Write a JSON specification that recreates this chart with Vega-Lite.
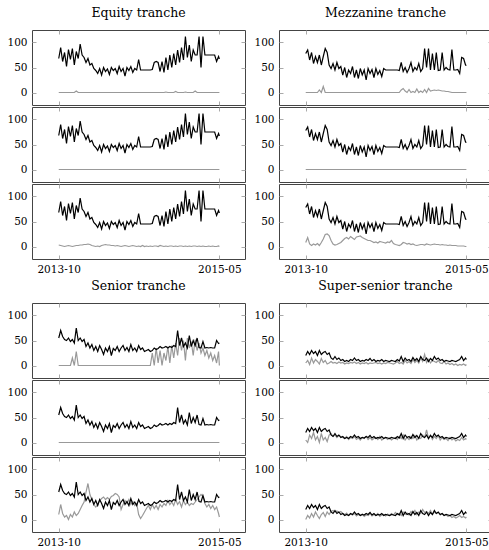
{
"$schema":"https://vega.github.io/schema/vega-lite/v6.json",
"padding":{"left":6,"top":6,"right":0,"bottom":0},
"background":"white",
"config":{
 "font":"DejaVu Serif",
 "view":{"stroke":"#444","strokeWidth":1},
 "axis":{"domain":false,"grid":false,"title":null,"tickColor":"#aaa","tickSize":-4,"labelFontSize":10.5,"labelColor":"#000","labelFont":"DejaVu Serif","labelPadding":9},
 "title":{"font":"DejaVu Serif","fontSize":12.5,"fontWeight":"normal","color":"#000","offset":10},
 "style":{"group-title":{"font":"DejaVu Serif","fontSize":12.5,"fontWeight":"normal"},"guide-label":{"font":"DejaVu Serif","fontSize":10.5}},
 "line":{"strokeWidth":1.2}
},
"data":{"values":[
{"d":"2013-10-01","eb":68,"e1":0,"e2":0,"e3":3,"mb":78,"m1":0,"m2":0,"m3":8,"sb":55,"s1":0,"s2":0,"s3":10,"ub":20,"u1":5,"u2":5,"u3":0},
{"d":"2013-10-08","eb":90,"e1":0,"e2":0,"e3":2,"mb":85,"m1":0,"m2":0,"m3":18,"sb":70,"s1":0,"s2":0,"s3":30,"ub":28,"u1":10,"u2":0,"u3":8},
{"d":"2013-10-15","eb":62,"e1":0,"e2":0,"e3":1,"mb":65,"m1":0,"m2":0,"m3":5,"sb":58,"s1":0,"s2":0,"s3":12,"ub":22,"u1":2,"u2":15,"u3":3},
{"d":"2013-10-22","eb":80,"e1":0,"e2":0,"e3":0,"mb":80,"m1":0,"m2":0,"m3":2,"sb":52,"s1":0,"s2":0,"s3":5,"ub":30,"u1":15,"u2":8,"u3":12},
{"d":"2013-10-29","eb":52,"e1":0,"e2":0,"e3":1,"mb":58,"m1":0,"m2":0,"m3":5,"sb":50,"s1":0,"s2":0,"s3":8,"ub":24,"u1":5,"u2":20,"u3":5},
{"d":"2013-11-05","eb":86,"e1":0,"e2":0,"e3":2,"mb":72,"m1":0,"m2":0,"m3":3,"sb":55,"s1":0,"s2":0,"s3":0,"ub":28,"u1":12,"u2":5,"u3":15},
{"d":"2013-11-12","eb":66,"e1":0,"e2":0,"e3":1,"mb":60,"m1":0,"m2":0,"m3":6,"sb":48,"s1":0,"s2":0,"s3":10,"ub":20,"u1":8,"u2":12,"u3":8},
{"d":"2013-11-19","eb":88,"e1":0,"e2":0,"e3":0,"mb":75,"m1":5,"m2":0,"m3":2,"sb":52,"s1":15,"s2":0,"s3":5,"ub":30,"u1":3,"u2":0,"u3":2},
{"d":"2013-11-26","eb":55,"e1":0,"e2":0,"e3":1,"mb":55,"m1":0,"m2":0,"m3":8,"sb":45,"s1":0,"s2":0,"s3":15,"ub":22,"u1":14,"u2":18,"u3":10},
{"d":"2013-12-03","eb":82,"e1":3,"e2":0,"e3":2,"mb":72,"m1":12,"m2":0,"m3":15,"sb":75,"s1":28,"s2":0,"s3":8,"ub":26,"u1":6,"u2":5,"u3":14},
{"d":"2013-12-10","eb":68,"e1":0,"e2":0,"e3":2,"mb":88,"m1":0,"m2":0,"m3":24,"sb":50,"s1":0,"s2":0,"s3":12,"ub":28,"u1":10,"u2":10,"u3":6},
{"d":"2013-12-17","eb":97,"e1":0,"e2":0,"e3":3,"mb":80,"m1":0,"m2":0,"m3":25,"sb":55,"s1":0,"s2":0,"s3":20,"ub":22,"u1":3,"u2":2,"u3":15},
{"d":"2013-12-24","eb":75,"e1":0,"e2":0,"e3":3,"mb":55,"m1":0,"m2":0,"m3":22,"sb":48,"s1":0,"s2":0,"s3":28,"ub":25,"u1":5,"u2":15,"u3":10},
{"d":"2013-12-31","eb":70,"e1":0,"e2":0,"e3":4,"mb":48,"m1":0,"m2":0,"m3":12,"sb":52,"s1":0,"s2":0,"s3":35,"ub":15,"u1":8,"u2":18,"u3":16},
{"d":"2014-01-07","eb":60,"e1":0,"e2":0,"e3":4,"mb":58,"m1":0,"m2":0,"m3":5,"sb":38,"s1":0,"s2":0,"s3":55,"ub":12,"u1":5,"u2":12,"u3":18},
{"d":"2014-01-14","eb":68,"e1":0,"e2":0,"e3":5,"mb":45,"m1":0,"m2":0,"m3":3,"sb":45,"s1":0,"s2":0,"s3":72,"ub":18,"u1":6,"u2":15,"u3":15},
{"d":"2014-01-21","eb":55,"e1":0,"e2":0,"e3":4,"mb":60,"m1":0,"m2":0,"m3":4,"sb":35,"s1":0,"s2":0,"s3":50,"ub":12,"u1":4,"u2":10,"u3":17},
{"d":"2014-01-28","eb":58,"e1":0,"e2":0,"e3":2,"mb":48,"m1":0,"m2":0,"m3":6,"sb":42,"s1":0,"s2":0,"s3":40,"ub":15,"u1":7,"u2":14,"u3":14},
{"d":"2014-02-04","eb":48,"e1":0,"e2":0,"e3":1,"mb":52,"m1":0,"m2":0,"m3":8,"sb":30,"s1":0,"s2":0,"s3":30,"ub":10,"u1":5,"u2":12,"u3":16},
{"d":"2014-02-11","eb":44,"e1":0,"e2":0,"e3":0,"mb":35,"m1":0,"m2":0,"m3":12,"sb":38,"s1":0,"s2":0,"s3":25,"ub":12,"u1":6,"u2":10,"u3":12},
{"d":"2014-02-18","eb":38,"e1":0,"e2":0,"e3":1,"mb":50,"m1":0,"m2":0,"m3":16,"sb":28,"s1":0,"s2":0,"s3":30,"ub":8,"u1":3,"u2":8,"u3":10},
{"d":"2014-02-25","eb":48,"e1":0,"e2":0,"e3":0,"mb":30,"m1":0,"m2":0,"m3":18,"sb":40,"s1":0,"s2":0,"s3":38,"ub":10,"u1":5,"u2":12,"u3":13},
{"d":"2014-03-04","eb":35,"e1":0,"e2":0,"e3":2,"mb":45,"m1":0,"m2":0,"m3":15,"sb":32,"s1":0,"s2":0,"s3":42,"ub":8,"u1":4,"u2":6,"u3":8},
{"d":"2014-03-11","eb":50,"e1":0,"e2":0,"e3":3,"mb":38,"m1":0,"m2":0,"m3":20,"sb":22,"s1":0,"s2":0,"s3":45,"ub":12,"u1":6,"u2":10,"u3":11},
{"d":"2014-03-18","eb":42,"e1":0,"e2":0,"e3":4,"mb":52,"m1":0,"m2":0,"m3":17,"sb":35,"s1":0,"s2":0,"s3":40,"ub":10,"u1":5,"u2":8,"u3":9},
{"d":"2014-03-25","eb":47,"e1":0,"e2":0,"e3":3,"mb":30,"m1":0,"m2":0,"m3":14,"sb":28,"s1":0,"s2":0,"s3":44,"ub":15,"u1":7,"u2":12,"u3":12},
{"d":"2014-04-01","eb":36,"e1":0,"e2":0,"e3":3,"mb":45,"m1":0,"m2":0,"m3":19,"sb":38,"s1":0,"s2":0,"s3":40,"ub":10,"u1":4,"u2":6,"u3":7},
{"d":"2014-04-08","eb":50,"e1":0,"e2":0,"e3":2,"mb":28,"m1":0,"m2":0,"m3":20,"sb":20,"s1":0,"s2":0,"s3":46,"ub":12,"u1":6,"u2":9,"u3":10},
{"d":"2014-04-15","eb":44,"e1":0,"e2":0,"e3":2,"mb":48,"m1":0,"m2":0,"m3":21,"sb":34,"s1":0,"s2":0,"s3":48,"ub":8,"u1":3,"u2":5,"u3":8},
{"d":"2014-04-22","eb":48,"e1":0,"e2":0,"e3":1,"mb":35,"m1":0,"m2":0,"m3":18,"sb":30,"s1":0,"s2":0,"s3":52,"ub":10,"u1":5,"u2":10,"u3":11},
{"d":"2014-04-29","eb":38,"e1":0,"e2":0,"e3":2,"mb":45,"m1":0,"m2":0,"m3":16,"sb":38,"s1":0,"s2":0,"s3":50,"ub":9,"u1":4,"u2":8,"u3":6},
{"d":"2014-05-06","eb":52,"e1":0,"e2":0,"e3":1,"mb":25,"m1":0,"m2":0,"m3":14,"sb":28,"s1":0,"s2":0,"s3":45,"ub":12,"u1":6,"u2":12,"u3":9},
{"d":"2014-05-13","eb":42,"e1":0,"e2":0,"e3":0,"mb":48,"m1":0,"m2":0,"m3":12,"sb":35,"s1":0,"s2":0,"s3":20,"ub":10,"u1":3,"u2":6,"u3":8},
{"d":"2014-05-20","eb":48,"e1":0,"e2":0,"e3":1,"mb":38,"m1":0,"m2":0,"m3":12,"sb":40,"s1":0,"s2":0,"s3":30,"ub":14,"u1":5,"u2":10,"u3":12},
{"d":"2014-05-27","eb":33,"e1":0,"e2":0,"e3":2,"mb":46,"m1":0,"m2":0,"m3":10,"sb":30,"s1":0,"s2":0,"s3":38,"ub":9,"u1":4,"u2":5,"u3":7},
{"d":"2014-06-03","eb":50,"e1":0,"e2":0,"e3":1,"mb":30,"m1":0,"m2":0,"m3":8,"sb":36,"s1":0,"s2":0,"s3":32,"ub":12,"u1":5,"u2":8,"u3":10},
{"d":"2014-06-10","eb":44,"e1":0,"e2":0,"e3":0,"mb":48,"m1":0,"m2":0,"m3":9,"sb":28,"s1":0,"s2":0,"s3":40,"ub":8,"u1":6,"u2":10,"u3":8},
{"d":"2014-06-17","eb":52,"e1":0,"e2":0,"e3":1,"mb":36,"m1":0,"m2":0,"m3":7,"sb":42,"s1":0,"s2":0,"s3":30,"ub":10,"u1":4,"u2":6,"u3":12},
{"d":"2014-06-24","eb":40,"e1":0,"e2":0,"e3":2,"mb":44,"m1":0,"m2":0,"m3":10,"sb":30,"s1":0,"s2":0,"s3":36,"ub":9,"u1":5,"u2":12,"u3":6},
{"d":"2014-07-01","eb":48,"e1":0,"e2":0,"e3":1,"mb":32,"m1":0,"m2":0,"m3":9,"sb":35,"s1":0,"s2":0,"s3":28,"ub":12,"u1":3,"u2":5,"u3":9},
{"d":"2014-07-08","eb":45,"e1":0,"e2":0,"e3":0,"mb":48,"m1":0,"m2":0,"m3":8,"sb":28,"s1":0,"s2":0,"s3":32,"ub":8,"u1":5,"u2":8,"u3":10},
{"d":"2014-07-15","eb":66,"e1":0,"e2":0,"e3":1,"mb":45,"m1":0,"m2":0,"m3":7,"sb":40,"s1":0,"s2":0,"s3":10,"ub":10,"u1":4,"u2":10,"u3":7},
{"d":"2014-07-22","eb":45,"e1":0,"e2":0,"e3":0,"mb":45,"m1":0,"m2":0,"m3":9,"sb":32,"s1":0,"s2":0,"s3":2,"ub":9,"u1":6,"u2":6,"u3":11},
{"d":"2014-07-29","eb":45,"e1":0,"e2":0,"e3":2,"mb":45,"m1":0,"m2":0,"m3":8,"sb":35,"s1":0,"s2":0,"s3":8,"ub":8,"u1":5,"u2":9,"u3":8},
{"d":"2014-08-05","eb":45,"e1":0,"e2":0,"e3":0,"mb":45,"m1":0,"m2":0,"m3":12,"sb":28,"s1":0,"s2":0,"s3":15,"ub":10,"u1":4,"u2":5,"u3":12},
{"d":"2014-08-12","eb":45,"e1":0,"e2":0,"e3":1,"mb":45,"m1":0,"m2":0,"m3":6,"sb":30,"s1":0,"s2":0,"s3":22,"ub":9,"u1":3,"u2":8,"u3":9},
{"d":"2014-08-19","eb":45,"e1":0,"e2":0,"e3":0,"mb":45,"m1":0,"m2":0,"m3":4,"sb":32,"s1":0,"s2":0,"s3":28,"ub":8,"u1":5,"u2":10,"u3":14},
{"d":"2014-08-26","eb":45,"e1":0,"e2":0,"e3":1,"mb":45,"m1":0,"m2":0,"m3":3,"sb":28,"s1":0,"s2":0,"s3":20,"ub":12,"u1":8,"u2":6,"u3":10},
{"d":"2014-09-02","eb":46,"e1":0,"e2":0,"e3":0,"mb":44,"m1":0,"m2":0,"m3":2,"sb":30,"s1":25,"s2":0,"s3":30,"ub":9,"u1":4,"u2":12,"u3":12},
{"d":"2014-09-09","eb":60,"e1":0,"e2":0,"e3":1,"mb":60,"m1":5,"m2":0,"m3":4,"sb":35,"s1":0,"s2":0,"s3":22,"ub":18,"u1":6,"u2":8,"u3":8},
{"d":"2014-09-16","eb":62,"e1":0,"e2":0,"e3":1,"mb":42,"m1":8,"m2":0,"m3":8,"sb":32,"s1":35,"s2":0,"s3":28,"ub":8,"u1":3,"u2":15,"u3":15},
{"d":"2014-09-23","eb":60,"e1":0,"e2":0,"e3":0,"mb":50,"m1":3,"m2":0,"m3":7,"sb":34,"s1":5,"s2":0,"s3":20,"ub":15,"u1":10,"u2":5,"u3":10},
{"d":"2014-09-30","eb":42,"e1":0,"e2":0,"e3":2,"mb":40,"m1":0,"m2":0,"m3":5,"sb":38,"s1":30,"s2":0,"s3":30,"ub":10,"u1":5,"u2":10,"u3":13},
{"d":"2014-10-07","eb":62,"e1":0,"e2":0,"e3":1,"mb":48,"m1":6,"m2":0,"m3":6,"sb":35,"s1":0,"s2":0,"s3":25,"ub":12,"u1":8,"u2":6,"u3":9},
{"d":"2014-10-14","eb":40,"e1":0,"e2":0,"e3":0,"mb":60,"m1":0,"m2":0,"m3":4,"sb":36,"s1":25,"s2":0,"s3":32,"ub":8,"u1":4,"u2":12,"u3":16},
{"d":"2014-10-21","eb":70,"e1":1,"e2":0,"e3":1,"mb":42,"m1":2,"m2":0,"m3":5,"sb":38,"s1":10,"s2":0,"s3":28,"ub":16,"u1":12,"u2":8,"u3":12},
{"d":"2014-10-28","eb":45,"e1":0,"e2":0,"e3":0,"mb":50,"m1":0,"m2":0,"m3":3,"sb":35,"s1":38,"s2":0,"s3":38,"ub":10,"u1":6,"u2":14,"u3":18},
{"d":"2014-11-04","eb":75,"e1":0,"e2":0,"e3":1,"mb":45,"m1":7,"m2":0,"m3":2,"sb":38,"s1":5,"s2":0,"s3":30,"ub":14,"u1":10,"u2":5,"u3":10},
{"d":"2014-11-11","eb":50,"e1":0,"e2":0,"e3":1,"mb":58,"m1":0,"m2":0,"m3":3,"sb":36,"s1":40,"s2":0,"s3":35,"ub":8,"u1":5,"u2":10,"u3":15},
{"d":"2014-11-18","eb":78,"e1":0,"e2":0,"e3":0,"mb":42,"m1":3,"m2":0,"m3":4,"sb":40,"s1":15,"s2":0,"s3":28,"ub":18,"u1":15,"u2":8,"u3":12},
{"d":"2014-11-25","eb":55,"e1":2,"e2":0,"e3":1,"mb":48,"m1":0,"m2":0,"m3":4,"sb":38,"s1":45,"s2":0,"s3":40,"ub":12,"u1":8,"u2":15,"u3":20},
{"d":"2014-12-02","eb":85,"e1":0,"e2":0,"e3":0,"mb":88,"m1":6,"m2":0,"m3":3,"sb":70,"s1":20,"s2":0,"s3":30,"ub":10,"u1":22,"u2":10,"u3":14},
{"d":"2014-12-09","eb":60,"e1":0,"e2":0,"e3":1,"mb":50,"m1":0,"m2":0,"m3":5,"sb":40,"s1":55,"s2":0,"s3":36,"ub":15,"u1":6,"u2":25,"u3":16},
{"d":"2014-12-16","eb":90,"e1":0,"e2":0,"e3":1,"mb":88,"m1":8,"m2":0,"m3":4,"sb":55,"s1":30,"s2":0,"s3":25,"ub":8,"u1":12,"u2":8,"u3":12},
{"d":"2014-12-23","eb":65,"e1":0,"e2":0,"e3":0,"mb":45,"m1":3,"m2":0,"m3":3,"sb":38,"s1":50,"s2":0,"s3":38,"ub":14,"u1":5,"u2":15,"u3":18},
{"d":"2014-12-30","eb":112,"e1":1,"e2":0,"e3":1,"mb":78,"m1":4,"m2":0,"m3":4,"sb":45,"s1":10,"s2":0,"s3":30,"ub":10,"u1":10,"u2":6,"u3":10},
{"d":"2015-01-06","eb":70,"e1":0,"e2":0,"e3":0,"mb":45,"m1":5,"m2":0,"m3":5,"sb":35,"s1":55,"s2":0,"s3":35,"ub":18,"u1":8,"u2":12,"u3":15},
{"d":"2015-01-13","eb":95,"e1":0,"e2":0,"e3":1,"mb":80,"m1":4,"m2":0,"m3":4,"sb":60,"s1":35,"s2":0,"s3":28,"ub":12,"u1":6,"u2":8,"u3":12},
{"d":"2015-01-20","eb":62,"e1":0,"e2":0,"e3":0,"mb":44,"m1":5,"m2":0,"m3":4,"sb":38,"s1":48,"s2":0,"s3":32,"ub":15,"u1":10,"u2":14,"u3":14},
{"d":"2015-01-27","eb":85,"e1":0,"e2":0,"e3":1,"mb":45,"m1":4,"m2":0,"m3":3,"sb":50,"s1":20,"s2":0,"s3":30,"ub":10,"u1":5,"u2":5,"u3":9},
{"d":"2015-02-03","eb":75,"e1":3,"e2":0,"e3":1,"mb":80,"m1":3,"m2":0,"m3":4,"sb":40,"s1":52,"s2":0,"s3":35,"ub":12,"u1":4,"u2":10,"u3":12},
{"d":"2015-02-10","eb":75,"e1":0,"e2":0,"e3":0,"mb":45,"m1":3,"m2":0,"m3":3,"sb":55,"s1":30,"s2":0,"s3":40,"ub":8,"u1":8,"u2":6,"u3":8},
{"d":"2015-02-17","eb":112,"e1":0,"e2":0,"e3":1,"mb":50,"m1":2,"m2":0,"m3":3,"sb":36,"s1":45,"s2":0,"s3":45,"ub":10,"u1":3,"u2":8,"u3":10},
{"d":"2015-02-24","eb":50,"e1":0,"e2":0,"e3":0,"mb":46,"m1":2,"m2":0,"m3":2,"sb":35,"s1":25,"s2":0,"s3":50,"ub":9,"u1":5,"u2":4,"u3":6},
{"d":"2015-03-03","eb":112,"e1":0,"e2":0,"e3":1,"mb":45,"m1":1,"m2":0,"m3":3,"sb":48,"s1":35,"s2":0,"s3":46,"ub":8,"u1":2,"u2":10,"u3":8},
{"d":"2015-03-10","eb":75,"e1":0,"e2":0,"e3":0,"mb":86,"m1":0,"m2":0,"m3":2,"sb":35,"s1":20,"s2":0,"s3":32,"ub":10,"u1":4,"u2":5,"u3":4},
{"d":"2015-03-17","eb":75,"e1":0,"e2":0,"e3":0,"mb":45,"m1":0,"m2":0,"m3":2,"sb":36,"s1":30,"s2":0,"s3":25,"ub":9,"u1":1,"u2":8,"u3":6},
{"d":"2015-03-24","eb":75,"e1":0,"e2":0,"e3":1,"mb":45,"m1":0,"m2":0,"m3":2,"sb":35,"s1":15,"s2":0,"s3":30,"ub":8,"u1":3,"u2":3,"u3":3},
{"d":"2015-03-31","eb":75,"e1":0,"e2":0,"e3":0,"mb":46,"m1":0,"m2":0,"m3":1,"sb":36,"s1":25,"s2":0,"s3":22,"ub":10,"u1":0,"u2":6,"u3":5},
{"d":"2015-04-07","eb":75,"e1":0,"e2":0,"e3":1,"mb":38,"m1":0,"m2":0,"m3":1,"sb":35,"s1":10,"s2":0,"s3":28,"ub":12,"u1":2,"u2":4,"u3":8},
{"d":"2015-04-14","eb":75,"e1":0,"e2":0,"e3":0,"mb":70,"m1":0,"m2":0,"m3":1,"sb":35,"s1":20,"s2":0,"s3":20,"ub":18,"u1":1,"u2":10,"u3":4},
{"d":"2015-04-21","eb":62,"e1":0,"e2":0,"e3":0,"mb":68,"m1":0,"m2":0,"m3":1,"sb":50,"s1":5,"s2":0,"s3":25,"ub":10,"u1":3,"u2":5,"u3":6},
{"d":"2015-04-28","eb":72,"e1":0,"e2":0,"e3":1,"mb":55,"m1":0,"m2":0,"m3":0,"sb":44,"s1":28,"s2":0,"s3":12,"ub":15,"u1":0,"u2":8,"u3":3},
{"d":"2015-05-01","eb":67,"e1":0,"e2":0,"e3":0,"mb":54,"m1":0,"m2":0,"m3":0,"sb":45,"s1":0,"s2":0,"s3":5,"ub":12,"u1":2,"u2":6,"u3":5}
]},
"spacing":4,
"vconcat":[
{"spacing":7,"hconcat":[
 {"spacing":0,"vconcat":[
  {"title":{"text":"Equity tranche","anchor":"middle"},"width":213,"height":75,"resolve":{"axis":{"x":"independent","y":"independent"}},"layer":[
   {"mark":{"type":"line","color":"#999"},"encoding":{"x":{"field":"d","type":"temporal","scale":{"type":"utc","domain":[{"year":2013,"month":6,"date":27,"utc":true},{"year":2015,"month":8,"date":1,"utc":true}]},"axis":{"orient":"top","labels":false,"values":[{"year":2013,"month":10,"date":1,"utc":true},{"year":2015,"month":5,"date":1,"utc":true}]}},"y":{"field":"e1","type":"quantitative","scale":{"domain":[-25,125]},"axis":{"orient":"right","labels":false,"values":[0,50,100]}}}},
   {"mark":{"type":"line","color":"#000"},"encoding":{"x":{"field":"d","type":"temporal","scale":{"type":"utc","domain":[{"year":2013,"month":6,"date":27,"utc":true},{"year":2015,"month":8,"date":1,"utc":true}]},"axis":{"orient":"bottom","labels":false,"values":[{"year":2013,"month":10,"date":1,"utc":true},{"year":2015,"month":5,"date":1,"utc":true}]}},"y":{"field":"eb","type":"quantitative","scale":{"domain":[-25,125]},"axis":{"orient":"left","values":[0,50,100]}}}}
  ]},
  {"width":213,"height":75,"resolve":{"axis":{"x":"independent","y":"independent"}},"layer":[
   {"mark":{"type":"line","color":"#999"},"encoding":{"x":{"field":"d","type":"temporal","scale":{"type":"utc","domain":[{"year":2013,"month":6,"date":27,"utc":true},{"year":2015,"month":8,"date":1,"utc":true}]},"axis":{"orient":"top","labels":false,"values":[{"year":2013,"month":10,"date":1,"utc":true},{"year":2015,"month":5,"date":1,"utc":true}]}},"y":{"field":"e2","type":"quantitative","scale":{"domain":[-25,125]},"axis":{"orient":"right","labels":false,"values":[0,50,100]}}}},
   {"mark":{"type":"line","color":"#000"},"encoding":{"x":{"field":"d","type":"temporal","scale":{"type":"utc","domain":[{"year":2013,"month":6,"date":27,"utc":true},{"year":2015,"month":8,"date":1,"utc":true}]},"axis":{"orient":"bottom","labels":false,"values":[{"year":2013,"month":10,"date":1,"utc":true},{"year":2015,"month":5,"date":1,"utc":true}]}},"y":{"field":"eb","type":"quantitative","scale":{"domain":[-25,125]},"axis":{"orient":"left","values":[0,50,100]}}}}
  ]},
  {"width":213,"height":75,"resolve":{"axis":{"x":"independent","y":"independent"}},"layer":[
   {"mark":{"type":"line","color":"#999"},"encoding":{"x":{"field":"d","type":"temporal","scale":{"type":"utc","domain":[{"year":2013,"month":6,"date":27,"utc":true},{"year":2015,"month":8,"date":1,"utc":true}]},"axis":{"orient":"top","labels":false,"values":[{"year":2013,"month":10,"date":1,"utc":true},{"year":2015,"month":5,"date":1,"utc":true}]}},"y":{"field":"e3","type":"quantitative","scale":{"domain":[-25,125]},"axis":{"orient":"right","labels":false,"values":[0,50,100]}}}},
   {"mark":{"type":"line","color":"#000"},"encoding":{"x":{"field":"d","type":"temporal","scale":{"type":"utc","domain":[{"year":2013,"month":6,"date":27,"utc":true},{"year":2015,"month":8,"date":1,"utc":true}]},"axis":{"orient":"bottom","format":"%Y-%m","values":[{"year":2013,"month":10,"date":1,"utc":true},{"year":2015,"month":5,"date":1,"utc":true}]}},"y":{"field":"eb","type":"quantitative","scale":{"domain":[-25,125]},"axis":{"orient":"left","values":[0,50,100]}}}}
  ]}
 ]},
 {"spacing":0,"vconcat":[
  {"title":{"text":"Mezzanine tranche","anchor":"middle"},"width":213,"height":75,"resolve":{"axis":{"x":"independent","y":"independent"}},"layer":[
   {"mark":{"type":"line","color":"#999"},"encoding":{"x":{"field":"d","type":"temporal","scale":{"type":"utc","domain":[{"year":2013,"month":6,"date":27,"utc":true},{"year":2015,"month":8,"date":1,"utc":true}]},"axis":{"orient":"top","labels":false,"values":[{"year":2013,"month":10,"date":1,"utc":true},{"year":2015,"month":5,"date":1,"utc":true}]}},"y":{"field":"m1","type":"quantitative","scale":{"domain":[-25,125]},"axis":{"orient":"right","labels":false,"values":[0,50,100]}}}},
   {"mark":{"type":"line","color":"#000"},"encoding":{"x":{"field":"d","type":"temporal","scale":{"type":"utc","domain":[{"year":2013,"month":6,"date":27,"utc":true},{"year":2015,"month":8,"date":1,"utc":true}]},"axis":{"orient":"bottom","labels":false,"values":[{"year":2013,"month":10,"date":1,"utc":true},{"year":2015,"month":5,"date":1,"utc":true}]}},"y":{"field":"mb","type":"quantitative","scale":{"domain":[-25,125]},"axis":{"orient":"left","values":[0,50,100]}}}}
  ]},
  {"width":213,"height":75,"resolve":{"axis":{"x":"independent","y":"independent"}},"layer":[
   {"mark":{"type":"line","color":"#999"},"encoding":{"x":{"field":"d","type":"temporal","scale":{"type":"utc","domain":[{"year":2013,"month":6,"date":27,"utc":true},{"year":2015,"month":8,"date":1,"utc":true}]},"axis":{"orient":"top","labels":false,"values":[{"year":2013,"month":10,"date":1,"utc":true},{"year":2015,"month":5,"date":1,"utc":true}]}},"y":{"field":"m2","type":"quantitative","scale":{"domain":[-25,125]},"axis":{"orient":"right","labels":false,"values":[0,50,100]}}}},
   {"mark":{"type":"line","color":"#000"},"encoding":{"x":{"field":"d","type":"temporal","scale":{"type":"utc","domain":[{"year":2013,"month":6,"date":27,"utc":true},{"year":2015,"month":8,"date":1,"utc":true}]},"axis":{"orient":"bottom","labels":false,"values":[{"year":2013,"month":10,"date":1,"utc":true},{"year":2015,"month":5,"date":1,"utc":true}]}},"y":{"field":"mb","type":"quantitative","scale":{"domain":[-25,125]},"axis":{"orient":"left","values":[0,50,100]}}}}
  ]},
  {"width":213,"height":75,"resolve":{"axis":{"x":"independent","y":"independent"}},"layer":[
   {"mark":{"type":"line","color":"#999"},"encoding":{"x":{"field":"d","type":"temporal","scale":{"type":"utc","domain":[{"year":2013,"month":6,"date":27,"utc":true},{"year":2015,"month":8,"date":1,"utc":true}]},"axis":{"orient":"top","labels":false,"values":[{"year":2013,"month":10,"date":1,"utc":true},{"year":2015,"month":5,"date":1,"utc":true}]}},"y":{"field":"m3","type":"quantitative","scale":{"domain":[-25,125]},"axis":{"orient":"right","labels":false,"values":[0,50,100]}}}},
   {"mark":{"type":"line","color":"#000"},"encoding":{"x":{"field":"d","type":"temporal","scale":{"type":"utc","domain":[{"year":2013,"month":6,"date":27,"utc":true},{"year":2015,"month":8,"date":1,"utc":true}]},"axis":{"orient":"bottom","format":"%Y-%m","values":[{"year":2013,"month":10,"date":1,"utc":true},{"year":2015,"month":5,"date":1,"utc":true}]}},"y":{"field":"mb","type":"quantitative","scale":{"domain":[-25,125]},"axis":{"orient":"left","values":[0,50,100]}}}}
  ]}
 ]}
]},
{"spacing":7,"hconcat":[
 {"spacing":0,"vconcat":[
  {"title":{"text":"Senior tranche","anchor":"middle"},"width":213,"height":75,"resolve":{"axis":{"x":"independent","y":"independent"}},"layer":[
   {"mark":{"type":"line","color":"#999"},"encoding":{"x":{"field":"d","type":"temporal","scale":{"type":"utc","domain":[{"year":2013,"month":6,"date":27,"utc":true},{"year":2015,"month":8,"date":1,"utc":true}]},"axis":{"orient":"top","labels":false,"values":[{"year":2013,"month":10,"date":1,"utc":true},{"year":2015,"month":5,"date":1,"utc":true}]}},"y":{"field":"s1","type":"quantitative","scale":{"domain":[-25,125]},"axis":{"orient":"right","labels":false,"values":[0,50,100]}}}},
   {"mark":{"type":"line","color":"#000"},"encoding":{"x":{"field":"d","type":"temporal","scale":{"type":"utc","domain":[{"year":2013,"month":6,"date":27,"utc":true},{"year":2015,"month":8,"date":1,"utc":true}]},"axis":{"orient":"bottom","labels":false,"values":[{"year":2013,"month":10,"date":1,"utc":true},{"year":2015,"month":5,"date":1,"utc":true}]}},"y":{"field":"sb","type":"quantitative","scale":{"domain":[-25,125]},"axis":{"orient":"left","values":[0,50,100]}}}}
  ]},
  {"width":213,"height":75,"resolve":{"axis":{"x":"independent","y":"independent"}},"layer":[
   {"mark":{"type":"line","color":"#999"},"encoding":{"x":{"field":"d","type":"temporal","scale":{"type":"utc","domain":[{"year":2013,"month":6,"date":27,"utc":true},{"year":2015,"month":8,"date":1,"utc":true}]},"axis":{"orient":"top","labels":false,"values":[{"year":2013,"month":10,"date":1,"utc":true},{"year":2015,"month":5,"date":1,"utc":true}]}},"y":{"field":"s2","type":"quantitative","scale":{"domain":[-25,125]},"axis":{"orient":"right","labels":false,"values":[0,50,100]}}}},
   {"mark":{"type":"line","color":"#000"},"encoding":{"x":{"field":"d","type":"temporal","scale":{"type":"utc","domain":[{"year":2013,"month":6,"date":27,"utc":true},{"year":2015,"month":8,"date":1,"utc":true}]},"axis":{"orient":"bottom","labels":false,"values":[{"year":2013,"month":10,"date":1,"utc":true},{"year":2015,"month":5,"date":1,"utc":true}]}},"y":{"field":"sb","type":"quantitative","scale":{"domain":[-25,125]},"axis":{"orient":"left","values":[0,50,100]}}}}
  ]},
  {"width":213,"height":75,"resolve":{"axis":{"x":"independent","y":"independent"}},"layer":[
   {"mark":{"type":"line","color":"#999"},"encoding":{"x":{"field":"d","type":"temporal","scale":{"type":"utc","domain":[{"year":2013,"month":6,"date":27,"utc":true},{"year":2015,"month":8,"date":1,"utc":true}]},"axis":{"orient":"top","labels":false,"values":[{"year":2013,"month":10,"date":1,"utc":true},{"year":2015,"month":5,"date":1,"utc":true}]}},"y":{"field":"s3","type":"quantitative","scale":{"domain":[-25,125]},"axis":{"orient":"right","labels":false,"values":[0,50,100]}}}},
   {"mark":{"type":"line","color":"#000"},"encoding":{"x":{"field":"d","type":"temporal","scale":{"type":"utc","domain":[{"year":2013,"month":6,"date":27,"utc":true},{"year":2015,"month":8,"date":1,"utc":true}]},"axis":{"orient":"bottom","format":"%Y-%m","values":[{"year":2013,"month":10,"date":1,"utc":true},{"year":2015,"month":5,"date":1,"utc":true}]}},"y":{"field":"sb","type":"quantitative","scale":{"domain":[-25,125]},"axis":{"orient":"left","values":[0,50,100]}}}}
  ]}
 ]},
 {"spacing":0,"vconcat":[
  {"title":{"text":"Super-senior tranche","anchor":"middle"},"width":213,"height":75,"resolve":{"axis":{"x":"independent","y":"independent"}},"layer":[
   {"mark":{"type":"line","color":"#999"},"encoding":{"x":{"field":"d","type":"temporal","scale":{"type":"utc","domain":[{"year":2013,"month":6,"date":27,"utc":true},{"year":2015,"month":8,"date":1,"utc":true}]},"axis":{"orient":"top","labels":false,"values":[{"year":2013,"month":10,"date":1,"utc":true},{"year":2015,"month":5,"date":1,"utc":true}]}},"y":{"field":"u1","type":"quantitative","scale":{"domain":[-25,125]},"axis":{"orient":"right","labels":false,"values":[0,50,100]}}}},
   {"mark":{"type":"line","color":"#000"},"encoding":{"x":{"field":"d","type":"temporal","scale":{"type":"utc","domain":[{"year":2013,"month":6,"date":27,"utc":true},{"year":2015,"month":8,"date":1,"utc":true}]},"axis":{"orient":"bottom","labels":false,"values":[{"year":2013,"month":10,"date":1,"utc":true},{"year":2015,"month":5,"date":1,"utc":true}]}},"y":{"field":"ub","type":"quantitative","scale":{"domain":[-25,125]},"axis":{"orient":"left","values":[0,50,100]}}}}
  ]},
  {"width":213,"height":75,"resolve":{"axis":{"x":"independent","y":"independent"}},"layer":[
   {"mark":{"type":"line","color":"#999"},"encoding":{"x":{"field":"d","type":"temporal","scale":{"type":"utc","domain":[{"year":2013,"month":6,"date":27,"utc":true},{"year":2015,"month":8,"date":1,"utc":true}]},"axis":{"orient":"top","labels":false,"values":[{"year":2013,"month":10,"date":1,"utc":true},{"year":2015,"month":5,"date":1,"utc":true}]}},"y":{"field":"u2","type":"quantitative","scale":{"domain":[-25,125]},"axis":{"orient":"right","labels":false,"values":[0,50,100]}}}},
   {"mark":{"type":"line","color":"#000"},"encoding":{"x":{"field":"d","type":"temporal","scale":{"type":"utc","domain":[{"year":2013,"month":6,"date":27,"utc":true},{"year":2015,"month":8,"date":1,"utc":true}]},"axis":{"orient":"bottom","labels":false,"values":[{"year":2013,"month":10,"date":1,"utc":true},{"year":2015,"month":5,"date":1,"utc":true}]}},"y":{"field":"ub","type":"quantitative","scale":{"domain":[-25,125]},"axis":{"orient":"left","values":[0,50,100]}}}}
  ]},
  {"width":213,"height":75,"resolve":{"axis":{"x":"independent","y":"independent"}},"layer":[
   {"mark":{"type":"line","color":"#999"},"encoding":{"x":{"field":"d","type":"temporal","scale":{"type":"utc","domain":[{"year":2013,"month":6,"date":27,"utc":true},{"year":2015,"month":8,"date":1,"utc":true}]},"axis":{"orient":"top","labels":false,"values":[{"year":2013,"month":10,"date":1,"utc":true},{"year":2015,"month":5,"date":1,"utc":true}]}},"y":{"field":"u3","type":"quantitative","scale":{"domain":[-25,125]},"axis":{"orient":"right","labels":false,"values":[0,50,100]}}}},
   {"mark":{"type":"line","color":"#000"},"encoding":{"x":{"field":"d","type":"temporal","scale":{"type":"utc","domain":[{"year":2013,"month":6,"date":27,"utc":true},{"year":2015,"month":8,"date":1,"utc":true}]},"axis":{"orient":"bottom","format":"%Y-%m","values":[{"year":2013,"month":10,"date":1,"utc":true},{"year":2015,"month":5,"date":1,"utc":true}]}},"y":{"field":"ub","type":"quantitative","scale":{"domain":[-25,125]},"axis":{"orient":"left","values":[0,50,100]}}}}
  ]}
 ]}
]}
]
}
